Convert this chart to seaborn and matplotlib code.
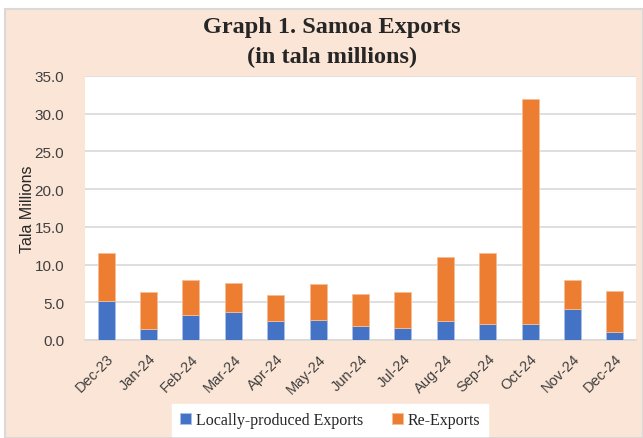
import matplotlib
matplotlib.use("Agg")
import matplotlib.pyplot as plt
import matplotlib.patches as mpatches
import numpy as np
import pandas as pd
import seaborn as sns

months = ['Dec-23', 'Jan-24', 'Feb-24', 'Mar-24', 'Apr-24', 'May-24', 'Jun-24',
          'Jul-24', 'Aug-24', 'Sep-24', 'Oct-24', 'Nov-24', 'Dec-24']
local_exports = [5.2, 1.45, 3.35, 3.7, 2.5, 2.6, 1.9, 1.6, 2.5, 2.1, 2.1, 4.1, 1.0]
re_exports = [6.3, 4.85, 4.65, 3.85, 3.5, 4.8, 4.15, 4.7, 8.45, 9.4, 29.8, 3.9, 5.5]

df = pd.DataFrame({'Month': months, 'Local': local_exports, 'Re': re_exports})

sns.set_theme(style="whitegrid")
plt.rcParams['font.family'] = ['Liberation Sans', 'DejaVu Sans']
peach = '#FBE5D6'
blue = '#4472C4'
orange = '#ED7D31'

fig = plt.figure(figsize=(6.43, 4.39), dpi=100, facecolor='white')
# chart area background with thin grey border
bg = mpatches.Rectangle((5 / 643, 0), 1 - 5 / 643, 1 - 10 / 439, transform=fig.transFigure,
                        facecolor=peach, edgecolor='#D9D9D9', linewidth=1.5, zorder=-10)
fig.patches.append(bg)

ax = fig.add_axes([85 / 643, 1 - 341 / 439, (636 - 85) / 643, (341 - 77) / 439])
ax.set_facecolor('white')

sns.barplot(data=df, x='Month', y='Local', color=blue, width=0.4, ax=ax,
            saturation=1, label='Locally-produced Exports', zorder=3,
            edgecolor='#A9C0E8', linewidth=0.6)
sns.barplot(data=df, x='Month', y='Re', bottom=df['Local'], color=orange, width=0.4, ax=ax,
            saturation=1, label='Re-Exports', zorder=3,
            edgecolor='#F6BE96', linewidth=0.6)
handles, labels = ax.get_legend_handles_labels()
if ax.get_legend() is not None:
    ax.get_legend().remove()

ax.set_ylim(0, 35)
ax.set_yticks(np.arange(0, 35.1, 5))
ax.set_yticklabels([f'{v:.1f}' for v in np.arange(0, 35.1, 5)], fontsize=11, color='#404040')
ax.set_xticks(range(len(months)))
ax.set_xticklabels(months, rotation=45, ha='right', rotation_mode='anchor', fontsize=10.5,
                   color='#404040')
ax.tick_params(axis='x', pad=2)
ax.tick_params(axis='y', pad=9)
ax.set_xlim(-0.5, len(months) - 0.5)
ax.set_xlabel('')
ax.set_ylabel('Tala Millions', fontsize=11.5, color='#262626')
ax.yaxis.set_label_coords((35 - 85) / 551, 0.5)
ax.grid(axis='y', color='#D9D9D9', linewidth=1.2)
ax.grid(axis='x', visible=False)
for s in ['top', 'right', 'left']:
    ax.spines[s].set_visible(False)
ax.spines['bottom'].set_color('#D9D9D9')
ax.spines['bottom'].set_linewidth(1.2)

fig.text(332 / 643, 1 - 28 / 439, 'Graph 1. Samoa Exports', ha='center', va='center',
         fontsize=17.5, fontweight='bold', family='Liberation Serif')
fig.text(332 / 643, 1 - 57 / 439, '(in tala millions)', ha='center', va='center',
         fontsize=17.5, fontweight='bold', family='Liberation Serif')

leg = fig.legend(handles, labels, loc='center', bbox_to_anchor=(330 / 643, 1 - 421 / 439),
                 ncol=2, frameon=True, fancybox=False, framealpha=1, edgecolor='white',
                 prop={'family': 'Liberation Serif', 'size': 11.5},
                 handlelength=0.7, handleheight=0.7, handletextpad=0.3, columnspacing=1.8,
                 borderpad=0.5)
leg.get_frame().set_facecolor('white')

fig.savefig('out.png', dpi=100, facecolor=fig.get_facecolor())
